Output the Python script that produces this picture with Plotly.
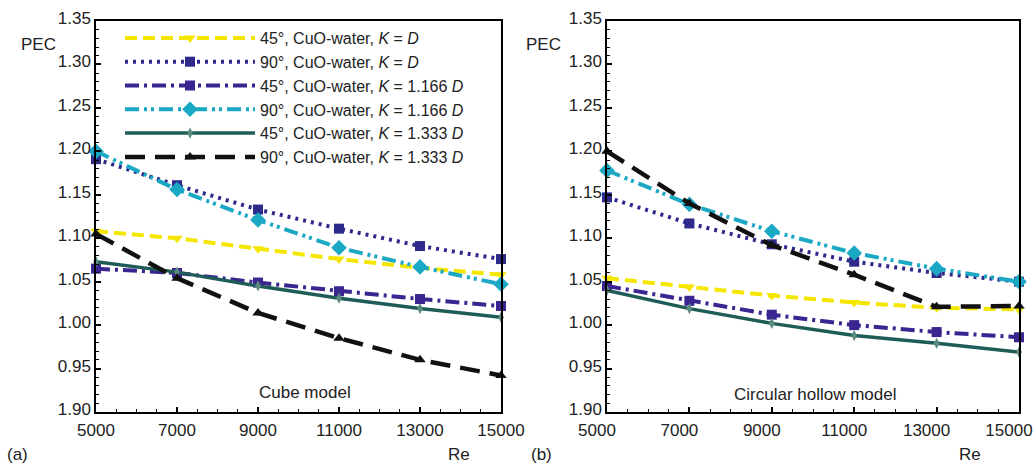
import plotly.graph_objects as go

# ---- data ----
re_vals = [5000, 7000, 9000, 11000, 13000, 15000]

series_names = [
    "45°, CuO-water, <i>K</i> = <i>D</i>",
    "90°, CuO-water, <i>K</i> = <i>D</i>",
    "45°, CuO-water, <i>K</i> = 1.166 <i>D</i>",
    "90°, CuO-water, <i>K</i> = 1.166 <i>D</i>",
    "45°, CuO-water, <i>K</i> = 1.333 <i>D</i>",
    "90°, CuO-water, <i>K</i> = 1.333 <i>D</i>",
]

# (a) Cube model
cube_45_k100 = [1.108, 1.100, 1.088, 1.076, 1.066, 1.058]
cube_90_k100 = [1.191, 1.161, 1.133, 1.111, 1.091, 1.076]
cube_45_k1166 = [1.065, 1.060, 1.049, 1.039, 1.030, 1.022]
cube_90_k1166 = [1.200, 1.156, 1.121, 1.089, 1.067, 1.047]
cube_45_k1333 = [1.073, 1.061, 1.045, 1.031, 1.019, 1.009]
cube_90_k1333 = [1.105, 1.054, 1.014, 0.985, 0.960, 0.942]

# (b) Circular hollow model
hollow_45_k100 = [1.054, 1.044, 1.034, 1.026, 1.020, 1.018]
hollow_90_k100 = [1.147, 1.117, 1.093, 1.073, 1.060, 1.050]
hollow_45_k1166 = [1.045, 1.028, 1.012, 1.000, 0.992, 0.986]
hollow_90_k1166 = [1.178, 1.139, 1.108, 1.083, 1.065, 1.050]
hollow_45_k1333 = [1.040, 1.019, 1.002, 0.988, 0.979, 0.969]
hollow_90_k1333 = [1.200, 1.140, 1.092, 1.058, 1.021, 1.022]

y_tickvals = [0.90, 0.95, 1.00, 1.05, 1.10, 1.15, 1.20, 1.25, 1.30, 1.35]
y_ticktext = ["1.90", "0.95", "1.00", "1.05", "1.10", "1.15", "1.20", "1.25", "1.30", "1.35"]
x_tickvals = [5000, 7000, 9000, 11000, 13000, 15000]

cube_series = [cube_45_k100, cube_90_k100, cube_45_k1166, cube_90_k1166, cube_45_k1333, cube_90_k1333]
hollow_series = [hollow_45_k100, hollow_90_k100, hollow_45_k1166, hollow_90_k1166, hollow_45_k1333, hollow_90_k1333]

styles = [
    dict(color="#f5e600", dash="12px,6px", width=4, symbol="triangle-down", msize=10, mcolor="#f5e600"),
    dict(color="#2e2a8c", dash="3px,5px", width=4, symbol="square", msize=10, mcolor="#2e2a8c"),
    dict(color="#3b2590", dash="14px,5px,3px,5px", width=4, symbol="square", msize=10, mcolor="#3b2590"),
    dict(color="#1aa8c4", dash="14px,5px,3px,4px,3px,5px", width=4, symbol="diamond", msize=12, mcolor="#1aa8c4"),
    dict(color="#1f5c58", dash="solid", width=3.5, symbol="diamond-tall", msize=8, mcolor="#5a8a80"),
    dict(color="#111111", dash="20px,10px", width=4.5, symbol="triangle-up", msize=10, mcolor="#111111"),
]

FONT = "Liberation Sans, Arial, sans-serif"
TXT = "#222222"

fig = go.Figure()

for panel, (data, xa, ya) in enumerate([(cube_series, "x", "y"), (hollow_series, "x2", "y2")]):
    for i, vals in enumerate(data):
        s = styles[i]
        fig.add_trace(go.Scatter(
            x=re_vals, y=vals, xaxis=xa, yaxis=ya,
            mode="lines+markers",
            name=series_names[i],
            showlegend=(panel == 0),
            cliponaxis=False,
            line=dict(color=s["color"], dash=s["dash"], width=s["width"]),
            marker=dict(symbol=s["symbol"], size=s["msize"], color=s["mcolor"],
                        line=dict(width=0)),
        ))

axis_common = dict(
    showgrid=False, zeroline=False, showline=True, linecolor="black", linewidth=1.5,
    mirror=True, ticks="inside", ticklen=5, tickwidth=1.5, tickcolor="black",
    automargin=False,
    tickfont=dict(family=FONT, size=17, color=TXT),
)

xdom1 = [96 / 1035, 501 / 1035]
xdom2 = [607 / 1035, 1019 / 1035]
ydom = [1 - 412 / 464, 1 - 21 / 464]

xa_common = dict(axis_common, range=[5000, 15000], tickvals=x_tickvals,
                 ticktext=[str(v) for v in x_tickvals], ticklabelstandoff=2,
                 minor=dict(dtick=500, ticks="inside", ticklen=3, tickwidth=1.2, tickcolor="black"))
ya_common = dict(axis_common, range=[0.90, 1.35], tickvals=y_tickvals, ticktext=y_ticktext,
                 ticklabelshift=-3,
                 minor=dict(dtick=0.01, tick0=0.90, ticks="inside", ticklen=3, tickwidth=1.2, tickcolor="black"))

fig.update_layout(
    width=1035, height=464,
    margin=dict(l=0, r=0, t=0, b=0, autoexpand=False),
    paper_bgcolor="white", plot_bgcolor="white",
    font=dict(family=FONT, size=17, color=TXT),
    xaxis=dict(xa_common, domain=xdom1, anchor="y"),
    yaxis=dict(ya_common, domain=ydom, anchor="x"),
    xaxis2=dict(xa_common, domain=xdom2, anchor="y2",
                ticklabeloverflow="allow", ticklabelshift=-10),
    yaxis2=dict(ya_common, domain=ydom, anchor="x2"),
    legend=dict(
        x=120 / 1035, y=1 - 21 / 464, xanchor="left", yanchor="top",
        bgcolor="rgba(0,0,0,0)", borderwidth=0,
        font=dict(family=FONT, size=16, color=TXT),
        itemwidth=130, tracegroupgap=0,
    ),
)

annotations = [
    dict(text="PEC", x=38 / 1035, y=1 - 45 / 464),
    dict(text="PEC", x=543 / 1035, y=1 - 45 / 464),
    dict(text="Cube model", x=305 / 1035, y=1 - 392 / 464),
    dict(text="Circular hollow model", x=815 / 1035, y=1 - 394 / 464),
    dict(text="Re", x=459 / 1035, y=1 - 454 / 464),
    dict(text="Re", x=970 / 1035, y=1 - 454 / 464),
    dict(text="(a)", x=17 / 1035, y=1 - 454 / 464),
    dict(text="(b)", x=541 / 1035, y=1 - 454 / 464),
]
for a in annotations:
    fig.add_annotation(xref="paper", yref="paper", showarrow=False,
                       xanchor="center", yanchor="middle",
                       font=dict(family=FONT, size=17, color=TXT), **a)

fig.write_html("out.html")
